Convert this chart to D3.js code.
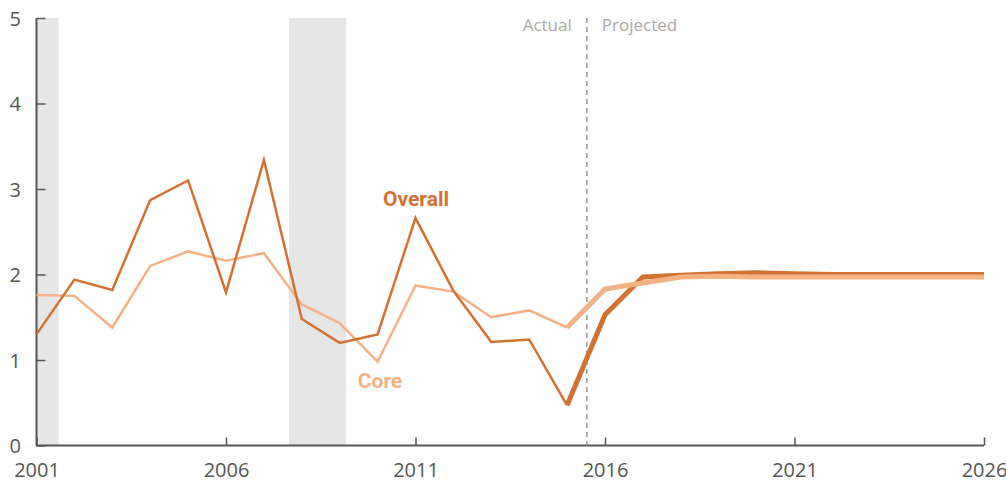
<!DOCTYPE html>
<html>
<head>
<meta charset="utf-8">
<script src="https://cdn.jsdelivr.net/npm/d3@7"></script>
<style>
  body { margin: 0; background: #fff; }
  svg { display: block; }
</style>
</head>
<body>
<svg id="chart"></svg>
<script>
// data
var actualYears = d3.range(2001, 2016);
var overallActual = [1.30, 1.94, 1.82, 2.87, 3.10, 1.79, 3.34, 1.48, 1.20, 1.30, 2.66, 1.81, 1.21, 1.24, 0.47];
var coreActual = [1.76, 1.75, 1.38, 2.10, 2.27, 2.16, 2.25, 1.65, 1.43, 0.98, 1.87, 1.80, 1.50, 1.58, 1.38];

var projYears = d3.range(2015, 2027);
var overallProj = [0.47, 1.53, 1.97, 1.99, 2.01, 2.02, 2.01, 2.00, 2.00, 2.00, 2.00, 2.00];
var coreProj = [1.38, 1.83, 1.90, 1.97, 1.98, 1.97, 1.97, 1.97, 1.97, 1.97, 1.97, 1.97];

var recessions = [[2001, 2001.58], [2007.66, 2009.17]];
var splitYear = 2015.52;
var xTicks = [2001, 2006, 2011, 2016, 2021, 2026];
var yTicks = [0, 1, 2, 3, 4, 5];

var width = 1006, height = 482;
var plotLeft = 36.5, plotRight = 984, plotTop = 18, plotBottom = 445.5;

var svg = d3.select("#chart").attr("width", width).attr("height", height);

var x = d3.scaleLinear().domain([2001, 2026]).range([plotLeft, plotRight]);
var y = d3.scaleLinear().domain([0, 5]).range([plotBottom, plotTop]);

var overallColor = "#d27232";
var coreColor = "#f4b184";

// recession shading
svg.selectAll(".rec")
    .data(recessions)
    .enter()
    .append("rect")
    .attr("x", function (d) { return x(d[0]); })
    .attr("width", function (d) { return x(d[1]) - x(d[0]); })
    .attr("y", y(5))
    .attr("height", y(0) - y(5))
    .style("fill", "#e6e6e6");

// y axis
var yAxis = d3.axisRight(y).tickValues(yTicks).tickSize(9).tickFormat(d3.format("d"));
var gy = svg.append("g").attr("transform", "translate(" + plotLeft + ",0)").call(yAxis);
gy.select(".domain").attr("d", "M0," + y(5) + "V" + y(0)).style("stroke", "#555").style("stroke-width", 2);
gy.selectAll(".tick line").style("stroke", "#555").style("stroke-width", 1.5);
gy.selectAll(".tick text")
    .attr("x", -27)
    .attr("dy", "0.35em")
    .style("text-anchor", "start")
    .style("font-family", "Open Sans")
    .style("font-size", "20px")
    .style("fill", "#555");

// x axis
var xAxis = d3.axisBottom(x).tickValues(xTicks).tickSize(-8).tickFormat(d3.format("d"));
var gx = svg.append("g").attr("transform", "translate(0," + plotBottom + ")").call(xAxis);
gx.select(".domain").attr("d", "M" + plotLeft + ",0H" + plotRight).style("stroke", "#555").style("stroke-width", 2);
gx.selectAll(".tick line").style("stroke", "#555").style("stroke-width", 1.5);
gx.selectAll(".tick text")
    .attr("y", 17)
    .attr("dy", "0.71em")
    .style("font-family", "Open Sans")
    .style("font-size", "20px")
    .style("fill", "#555");

// actual / projected divider
svg.append("line")
    .attr("x1", x(splitYear)).attr("x2", x(splitYear))
    .attr("y1", y(5)).attr("y2", y(0))
    .style("stroke", "#999")
    .style("stroke-width", 1.5)
    .style("stroke-dasharray", "5,4");

svg.append("text")
    .attr("x", x(splitYear) - 15).attr("y", 31)
    .attr("text-anchor", "end")
    .style("font-family", "Open Sans")
    .style("font-size", "17px")
    .style("fill", "#aaa")
    .text("Actual");

svg.append("text")
    .attr("x", x(splitYear) + 15).attr("y", 31)
    .style("font-family", "Open Sans")
    .style("font-size", "17px")
    .style("fill", "#aaa")
    .text("Projected");

var line = d3.line()
    .x(function (d) { return x(d[0]); })
    .y(function (d) { return y(d[1]); });

function pairs(years, vals) {
    return years.map(function (yr, i) { return [yr, vals[i]]; });
}

// projected (thick)
svg.append("path").datum(pairs(projYears, overallProj)).attr("d", line)
    .style("fill", "none").style("stroke", overallColor).style("stroke-width", 5).style("stroke-linejoin", "round");
svg.append("path").datum(pairs(projYears, coreProj)).attr("d", line)
    .style("fill", "none").style("stroke", coreColor).style("stroke-width", 5).style("stroke-linejoin", "round");

// actual (thin)
svg.append("path").datum(pairs(actualYears, coreActual)).attr("d", line)
    .style("fill", "none").style("stroke", coreColor).style("stroke-width", 2.5);
svg.append("path").datum(pairs(actualYears, overallActual)).attr("d", line)
    .style("fill", "none").style("stroke", overallColor).style("stroke-width", 2.5);

// series labels
svg.append("text")
    .attr("x", 416).attr("y", 206)
    .attr("text-anchor", "middle")
    .style("font-family", "Roboto")
    .style("font-weight", "bold")
    .style("font-size", "21px")
    .style("fill", overallColor)
    .text("Overall");

svg.append("text")
    .attr("x", 380).attr("y", 388)
    .attr("text-anchor", "middle")
    .style("font-family", "Roboto")
    .style("font-weight", "bold")
    .style("font-size", "21px")
    .style("fill", coreColor)
    .text("Core");
</script>
</body>
</html>
